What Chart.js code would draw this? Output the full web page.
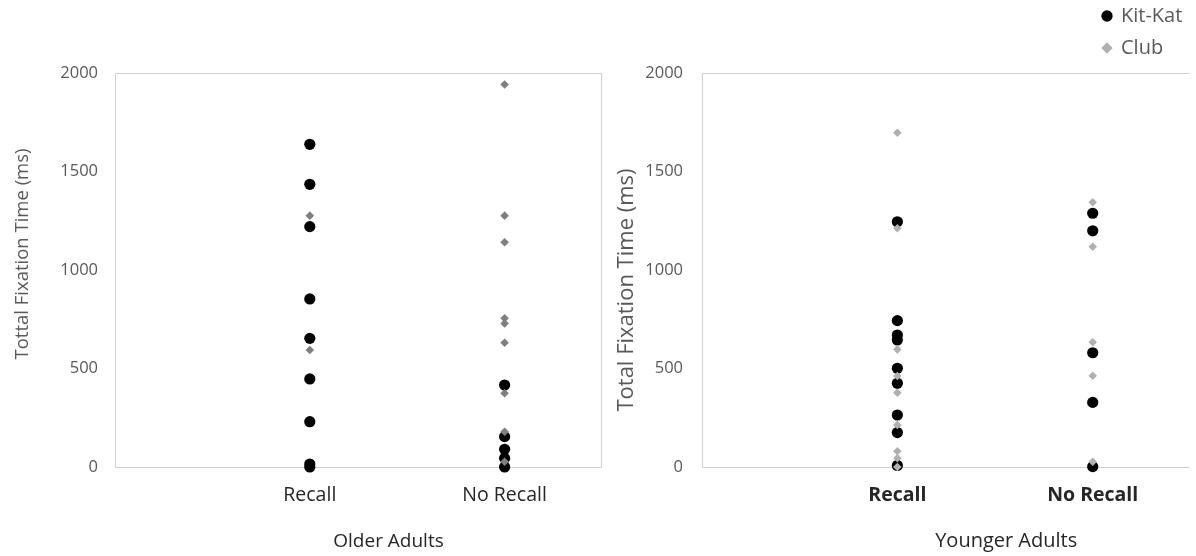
<!DOCTYPE html>
<html><head><meta charset="utf-8">
<script src="https://cdn.jsdelivr.net/npm/chart.js@4.4.1/dist/chart.umd.min.js"></script>
<style>
html,body{margin:0;padding:0;background:#fff;}
#wrap{position:relative;width:1196px;height:556px;overflow:hidden;background:#fff;}
.c{position:absolute;}
</style></head><body>
<div id="wrap">
<div class="c" style="left:0;top:0;width:610px;height:556px"><canvas id="older"></canvas></div>
<div class="c" style="left:610px;top:0;width:586px;height:556px"><canvas id="younger"></canvas></div>
<div class="c" style="left:1091px;top:-6px;width:320px;height:84px"><canvas id="legend"></canvas></div>
</div>
<script>
const categories = ['Recall', 'No Recall'];
const seriesNames = ['Kit-Kat', 'Club'];
const yTicks = [0, 500, 1000, 1500, 2000];
const panelTitles = ['Older Adults', 'Younger Adults'];
const yTitles = ['Tottal Fixation Time (ms)', 'Total Fixation Time (ms)'];

const olderKitKatRecall   = [1638, 1435, 1220, 853, 653, 447, 230, 15, 0];
const olderKitKatNoRecall = [416, 154, 90, 44, 0];
const olderClubRecall     = [1276, 594];
const olderClubNoRecall   = [1942, 1276, 1141, 755, 729, 631, 374, 179, 27];

const youngerKitKatRecall   = [1245, 743, 670, 645, 501, 425, 264, 175, 8];
const youngerKitKatNoRecall = [1288, 1199, 580, 328, 2];
const youngerClubRecall     = [1697, 1212, 597, 462, 377, 213, 80, 45, 0];
const youngerClubNoRecall   = [1344, 1118, 633, 463, 27];

const FONT = '"Open Sans", sans-serif';

function toPoints(recall, noRecall) {
  const groups = [recall, noRecall];
  const out = [];
  groups.forEach((g, i) => g.forEach(v => out.push({ x: i + 1, y: v })));
  return out;
}

const framePlugin = {
  id: 'frame',
  beforeDatasetsDraw(chart, args, opts) {
    const { ctx, chartArea } = chart;
    const l = Math.round(chartArea.left) + 0.5, t = Math.round(chartArea.top) + 0.5;
    const r = Math.round(chartArea.right) - 0.5, b = Math.round(chartArea.bottom) + 0.5;
    ctx.save();
    ctx.strokeStyle = opts.color || '#d0d0d0';
    ctx.lineWidth = 1;
    ctx.beginPath();
    ctx.moveTo(l, t); ctx.lineTo(r, t);
    ctx.moveTo(l, b); ctx.lineTo(r, b);
    ctx.moveTo(l, t); ctx.lineTo(l, b);
    if (opts.right) { ctx.moveTo(r, t); ctx.lineTo(r, b); }
    ctx.stroke();
    ctx.restore();
  }
};

// move axis titles the way the reference places them (ticks/data unaffected)
const titleShift = {
  id: 'titleShift',
  afterLayout(chart, args, opts) {
    const y = chart.scales.y, x = chart.scales.x;
    if (y && opts.dy) { y.top += opts.dy; y.bottom += opts.dy; }
    if (x && opts.dx) { x.left += opts.dx; x.right += opts.dx; }
  }
};

function makePanel(id, cfg) {
  return new Chart(document.getElementById(id), {
    type: 'scatter',
    data: {
      datasets: [
        { label: seriesNames[0], data: cfg.kitkat, order: 1, clip: false, pointStyle: 'circle',
          pointRadius: 5.6, pointHoverRadius: 5.6, backgroundColor: '#000000', borderColor: '#000000', borderWidth: 0 },
        { label: seriesNames[1], data: cfg.club, order: 0, clip: false, pointStyle: 'rectRot',
          pointRadius: 4.3, pointHoverRadius: 4.3, backgroundColor: cfg.clubColor, borderColor: cfg.clubColor, borderWidth: 0 }
      ]
    },
    options: {
      animation: false,
      responsive: true,
      maintainAspectRatio: false,
      events: [],
      layout: { padding: { top: 73, left: 0, right: cfg.padRight, bottom: 0 } },
      plugins: {
        legend: { display: false },
        tooltip: { enabled: false },
        frame: { color: '#d0d0d0', right: cfg.frameRight },
        titleShift: { dy: cfg.titleDy, dx: cfg.titleDx }
      },
      scales: {
        x: {
          type: 'linear', min: 0, max: 2.5,
          afterBuildTicks: a => { a.ticks = categories.map((c, i) => ({ value: i + 1 })); },
          afterFit: s => { s.height = 89; },
          grid: { display: false, drawTicks: false },
          border: { display: false },
          ticks: {
            callback: v => categories[Math.round(v) - 1],
            padding: 17, color: cfg.xTickColor, maxRotation: 0,
            font: { family: FONT, size: cfg.xTickSize, weight: cfg.xTickWeight }
          },
          title: {
            display: true, text: cfg.xTitle, color: '#262626',
            font: { family: FONT, size: cfg.xTitleSize }, padding: { top: 0, bottom: 3 }
          }
        },
        y: {
          min: 0, max: 2000,
          afterBuildTicks: a => { a.ticks = yTicks.map(v => ({ value: v })); },
          afterFit: s => { s.width = cfg.yWidth; },
          grid: { display: false, drawTicks: false },
          border: { display: false },
          ticks: { padding: cfg.yTickPad, color: '#595959', callback: v => String(v),
                   font: { family: FONT, size: cfg.yTickSize } },
          title: {
            display: true, text: cfg.yTitle, color: '#595959',
            font: { family: FONT, size: cfg.yTitleSize }, padding: { top: cfg.yTitlePad, bottom: 0 }
          }
        }
      }
    },
    plugins: [framePlugin, titleShift]
  });
}

makePanel('older', {
  kitkat: toPoints(olderKitKatRecall, olderKitKatNoRecall),
  club: toPoints(olderClubRecall, olderClubNoRecall),
  clubColor: '#7f7f7f', padRight: 8, frameRight: true, titleDy: -16, titleDx: 30,
  xTitle: panelTitles[0], yTitle: yTitles[0],
  yWidth: 115, yTickPad: 17, yTickSize: 16.5, yTitleSize: 18.5, yTitlePad: 12,
  xTickSize: 19.5, xTickWeight: 'normal', xTickColor: '#262626', xTitleSize: 19
});

makePanel('younger', {
  kitkat: toPoints(youngerKitKatRecall, youngerKitKatNoRecall),
  club: toPoints(youngerClubRecall, youngerClubNoRecall),
  clubColor: '#b0b0b0', padRight: 0, frameRight: false, titleDy: 20, titleDx: 60,
  xTitle: panelTitles[1], yTitle: yTitles[1],
  yWidth: 92, yTickPad: 19, yTickSize: 16.5, yTitleSize: 22, yTitlePad: 4,
  xTickSize: 19.5, xTickWeight: 'bold', xTickColor: '#262626', xTitleSize: 20
});

new Chart(document.getElementById('legend'), {
  type: 'scatter',
  data: {
    datasets: [
      { label: seriesNames[0], data: [], pointStyle: 'circle', backgroundColor: '#000000' },
      { label: seriesNames[1], data: [], pointStyle: 'rectRot', backgroundColor: '#b0b0b0' }
    ]
  },
  options: {
    animation: false, responsive: true, maintainAspectRatio: false,
    events: [],
    layout: { padding: 0 },
    scales: { x: { display: false }, y: { display: false } },
    plugins: {
      tooltip: { enabled: false },
      legend: {
        position: 'left', align: 'start',
        labels: {
          usePointStyle: true, boxWidth: 8, boxHeight: 8, padding: 12,
          color: '#595959', font: { family: FONT, size: 20 },
          generateLabels: chart => chart.data.datasets.map((d, i) => ({
            text: d.label, fillStyle: d.backgroundColor, strokeStyle: d.backgroundColor,
            lineWidth: 0, pointStyle: d.pointStyle, hidden: false, datasetIndex: i, fontColor: '#595959'
          }))
        }
      }
    }
  }
});
</script>
</body></html>
